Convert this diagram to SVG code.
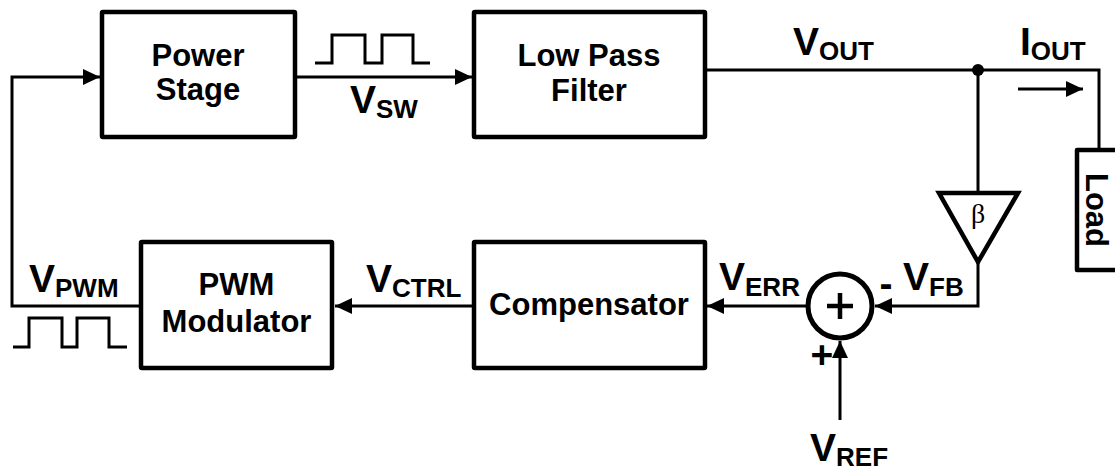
<svg xmlns="http://www.w3.org/2000/svg" width="1115" height="472" viewBox="0 0 1115 472">
<style>
.box{fill:#fff;stroke:#000;stroke-width:4.5;stroke-linejoin:round}
.w{fill:none;stroke:#000;stroke-width:3}
.lbl{font-family:"Liberation Sans",Arial,sans-serif;font-weight:bold;font-size:31px;fill:#000;text-anchor:middle}
.sig{font-family:"Liberation Sans",Arial,sans-serif;font-weight:bold;font-size:39px;fill:#000}
.sub{font-size:26px}
</style>
<defs>
<marker id="ah" markerUnits="userSpaceOnUse" markerWidth="17" markerHeight="16" refX="17" refY="8" orient="auto">
<path d="M0,0 L17,8 L0,16 z" fill="#000"/>
</marker>
</defs>
<rect width="1115" height="472" fill="#fff"/>
<g id="connectors">
<path class="w" d="M141,306 H12 V77 H100" marker-end="url(#ah)"/>
<path class="w" d="M295,77 H472" marker-end="url(#ah)"/>
<path class="w" d="M705,70 H1099 V150"/>
<circle cx="978" cy="70" r="6" fill="#000"/>
<path class="w" d="M978,70 V193"/>
<path class="w" d="M978,262 V306 H875" marker-end="url(#ah)"/>
<path class="w" d="M808,306 H707" marker-end="url(#ah)"/>
<path class="w" d="M474,306 H335" marker-end="url(#ah)"/>
<path class="w" d="M840,420 V341" marker-end="url(#ah)"/>
<path class="w" d="M1018,89 H1083" marker-end="url(#ah)"/>
<path class="w" d="M315,63 H332 V35 H365 V63 H382 V35 H413 V63 H430"/>
<path class="w" d="M13,347 H29 V318 H62 V347 H77 V318 H109 V347 H127"/>
</g>
<g id="power-stage">
<rect class="box" x="102" y="12" width="193" height="125" rx="1"/>
<text class="lbl" x="198" y="66">Power</text>
<text class="lbl" x="198" y="100">Stage</text>
</g>
<g id="low-pass-filter">
<rect class="box" x="474" y="12" width="231" height="125" rx="1"/>
<text class="lbl" x="589" y="66">Low Pass</text>
<text class="lbl" x="589" y="101">Filter</text>
</g>
<g id="compensator">
<rect class="box" x="474" y="242" width="231" height="126" rx="1"/>
<text class="lbl" x="589" y="315">Compensator</text>
</g>
<g id="pwm-modulator">
<rect class="box" x="141" y="242" width="191" height="126" rx="1"/>
<text class="lbl" x="236.5" y="295">PWM</text>
<text class="lbl" x="236.5" y="332">Modulator</text>
</g>
<g id="beta">
<path d="M939,193 H1018 L978,262 Z" fill="#fff" stroke="#000" stroke-width="4.5" stroke-linejoin="miter"/>
<text x="978" y="223" font-family="'Liberation Serif','Times New Roman',serif" font-size="28" text-anchor="middle">β</text>
</g>
<g id="summer">
<circle cx="840" cy="306" r="32" fill="#fff" stroke="#000" stroke-width="5"/>
<path d="M827,306 H853 M840,293 V319" stroke="#000" stroke-width="4.5" fill="none"/>
</g>
<g id="load">
<rect class="box" x="1077" y="150" width="60" height="120"/>
<text class="lbl" transform="translate(1086,210) rotate(90)" x="0" y="0">Load</text>
</g>
<g id="labels">
<text class="sig" x="350" y="113">V<tspan class="sub" dy="5">SW</tspan></text>
<text class="sig" x="793" y="55">V<tspan class="sub" dy="5">OUT</tspan></text>
<text class="sig" x="1020" y="55">I<tspan class="sub" dy="5">OUT</tspan></text>
<text class="sig" x="29" y="292">V<tspan class="sub" dy="5">PWM</tspan></text>
<text class="sig" x="366" y="292">V<tspan class="sub" dy="5">CTRL</tspan></text>
<text class="sig" x="719" y="290">V<tspan class="sub" dy="6">ERR</tspan></text>
<text class="sig" x="903" y="290">V<tspan class="sub" dy="6">FB</tspan></text>
<text class="sig" x="810" y="461">V<tspan class="sub" dy="5">REF</tspan></text>
<text class="sig" x="886" y="297" text-anchor="middle">-</text>
<text class="sig" x="822" y="368" text-anchor="middle" font-size="40">+</text>
</g>
</svg>
